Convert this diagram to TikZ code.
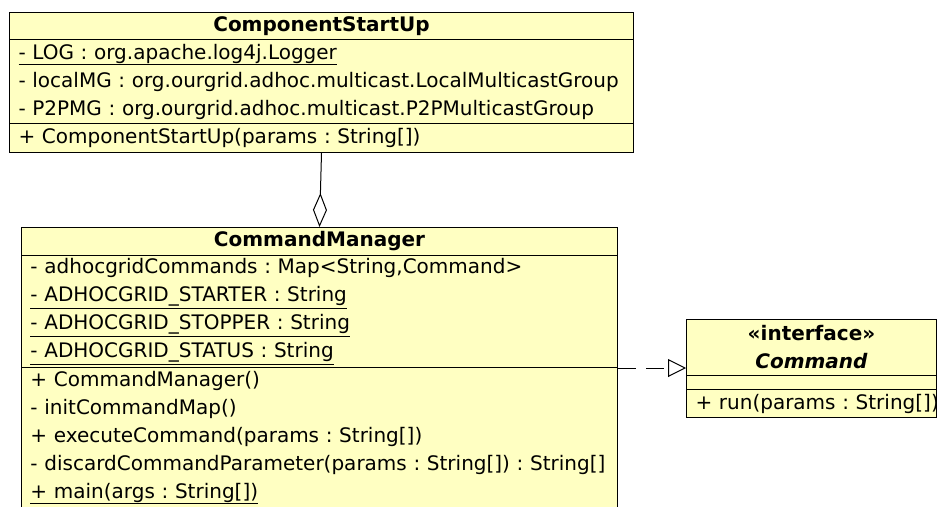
\documentclass[tikz,border=0pt]{standalone}
\usepackage{fontspec}
\setmainfont{DejaVu Sans}
\usepackage{tikz}
\usetikzlibrary{positioning,arrows.meta,calc}
\definecolor{umlbg}{RGB}{255,255,194}

\begin{document}
\frenchspacing
\begin{tikzpicture}[
    x=1pt, y=-1pt,
    part/.style={rectangle, draw, fill=umlbg, line width=1pt, anchor=north west, inner xsep=9pt, inner ysep=0pt, font=\fontsize{20}{28}\selectfont},
    head/.style={part, align=center},
    rows/.style={part, align=left},
    aggr/.style={line width=1pt, -{Diamond[open, length=34pt, width=14pt]}},
    realize/.style={line width=1pt, dash pattern=on 18pt off 10pt, -{Triangle[open, length=18pt, width=18pt]}},
]
    \useasboundingbox (0,0) rectangle (937,506);
    % ComponentStartUp
    \node[head, minimum width=624, minimum height=27, text width=606] (csuHead) at (9,12) {\textbf{ComponentStartUp}};
    \node[rows, minimum width=624, minimum height=84, text width=606] (csuAttr) at (9,39) {\underline{- LOG : org.apache.log4j.Logger}\\- localMG : org.ourgrid.adhoc.multicast.LocalMulticastGroup\\- P2PMG : org.ourgrid.adhoc.multicast.P2PMulticastGroup};
    \node[rows, minimum width=624, minimum height=29, text width=606] (csuMeth) at (9,123) {+ ComponentStartUp(params : String[])};
    % CommandManager
    \node[head, minimum width=596, minimum height=28, text width=578] (cmHead) at (21,227) {\textbf{CommandManager}};
    \node[rows, minimum width=596, minimum height=112, text width=578] (cmAttr) at (21,255) {- adhocgridCommands : Map<String,Command>\\\underline{- ADHOCGRID\_STARTER : String}\\\underline{- ADHOCGRID\_STOPPER : String}\\\underline{- ADHOCGRID\_STATUS : String}};
    \node[rows, minimum width=596, minimum height=140, text width=578] (cmMeth) at (21,367) {+ CommandManager()\\- initCommandMap()\\+ executeCommand(params : String[])\\\makebox[578pt][l]{- discardCommandParameter(params : String[]) : String[]}\\\underline{+ main(args : String[])}};
    % Command
    \node[head, minimum width=250, minimum height=56, text width=232] (cmdHead) at (686,319) {\textbf{«interface»}\\\textbf{\textit{Command}}};
    \node[rows, minimum width=250, minimum height=14, text width=232] (cmdAttr) at (686,375) {};
    \node[rows, minimum width=250, minimum height=28, text width=232] (cmdMeth) at (686,389) {\makebox[232pt][l]{+ run(params : String[])}};

    \draw[aggr] (csuMeth.south) -- (cmHead.north);
    \draw[realize] (cmAttr.south east) -- (cmAttr.south east -| cmdHead.west);
\end{tikzpicture}
\end{document}
